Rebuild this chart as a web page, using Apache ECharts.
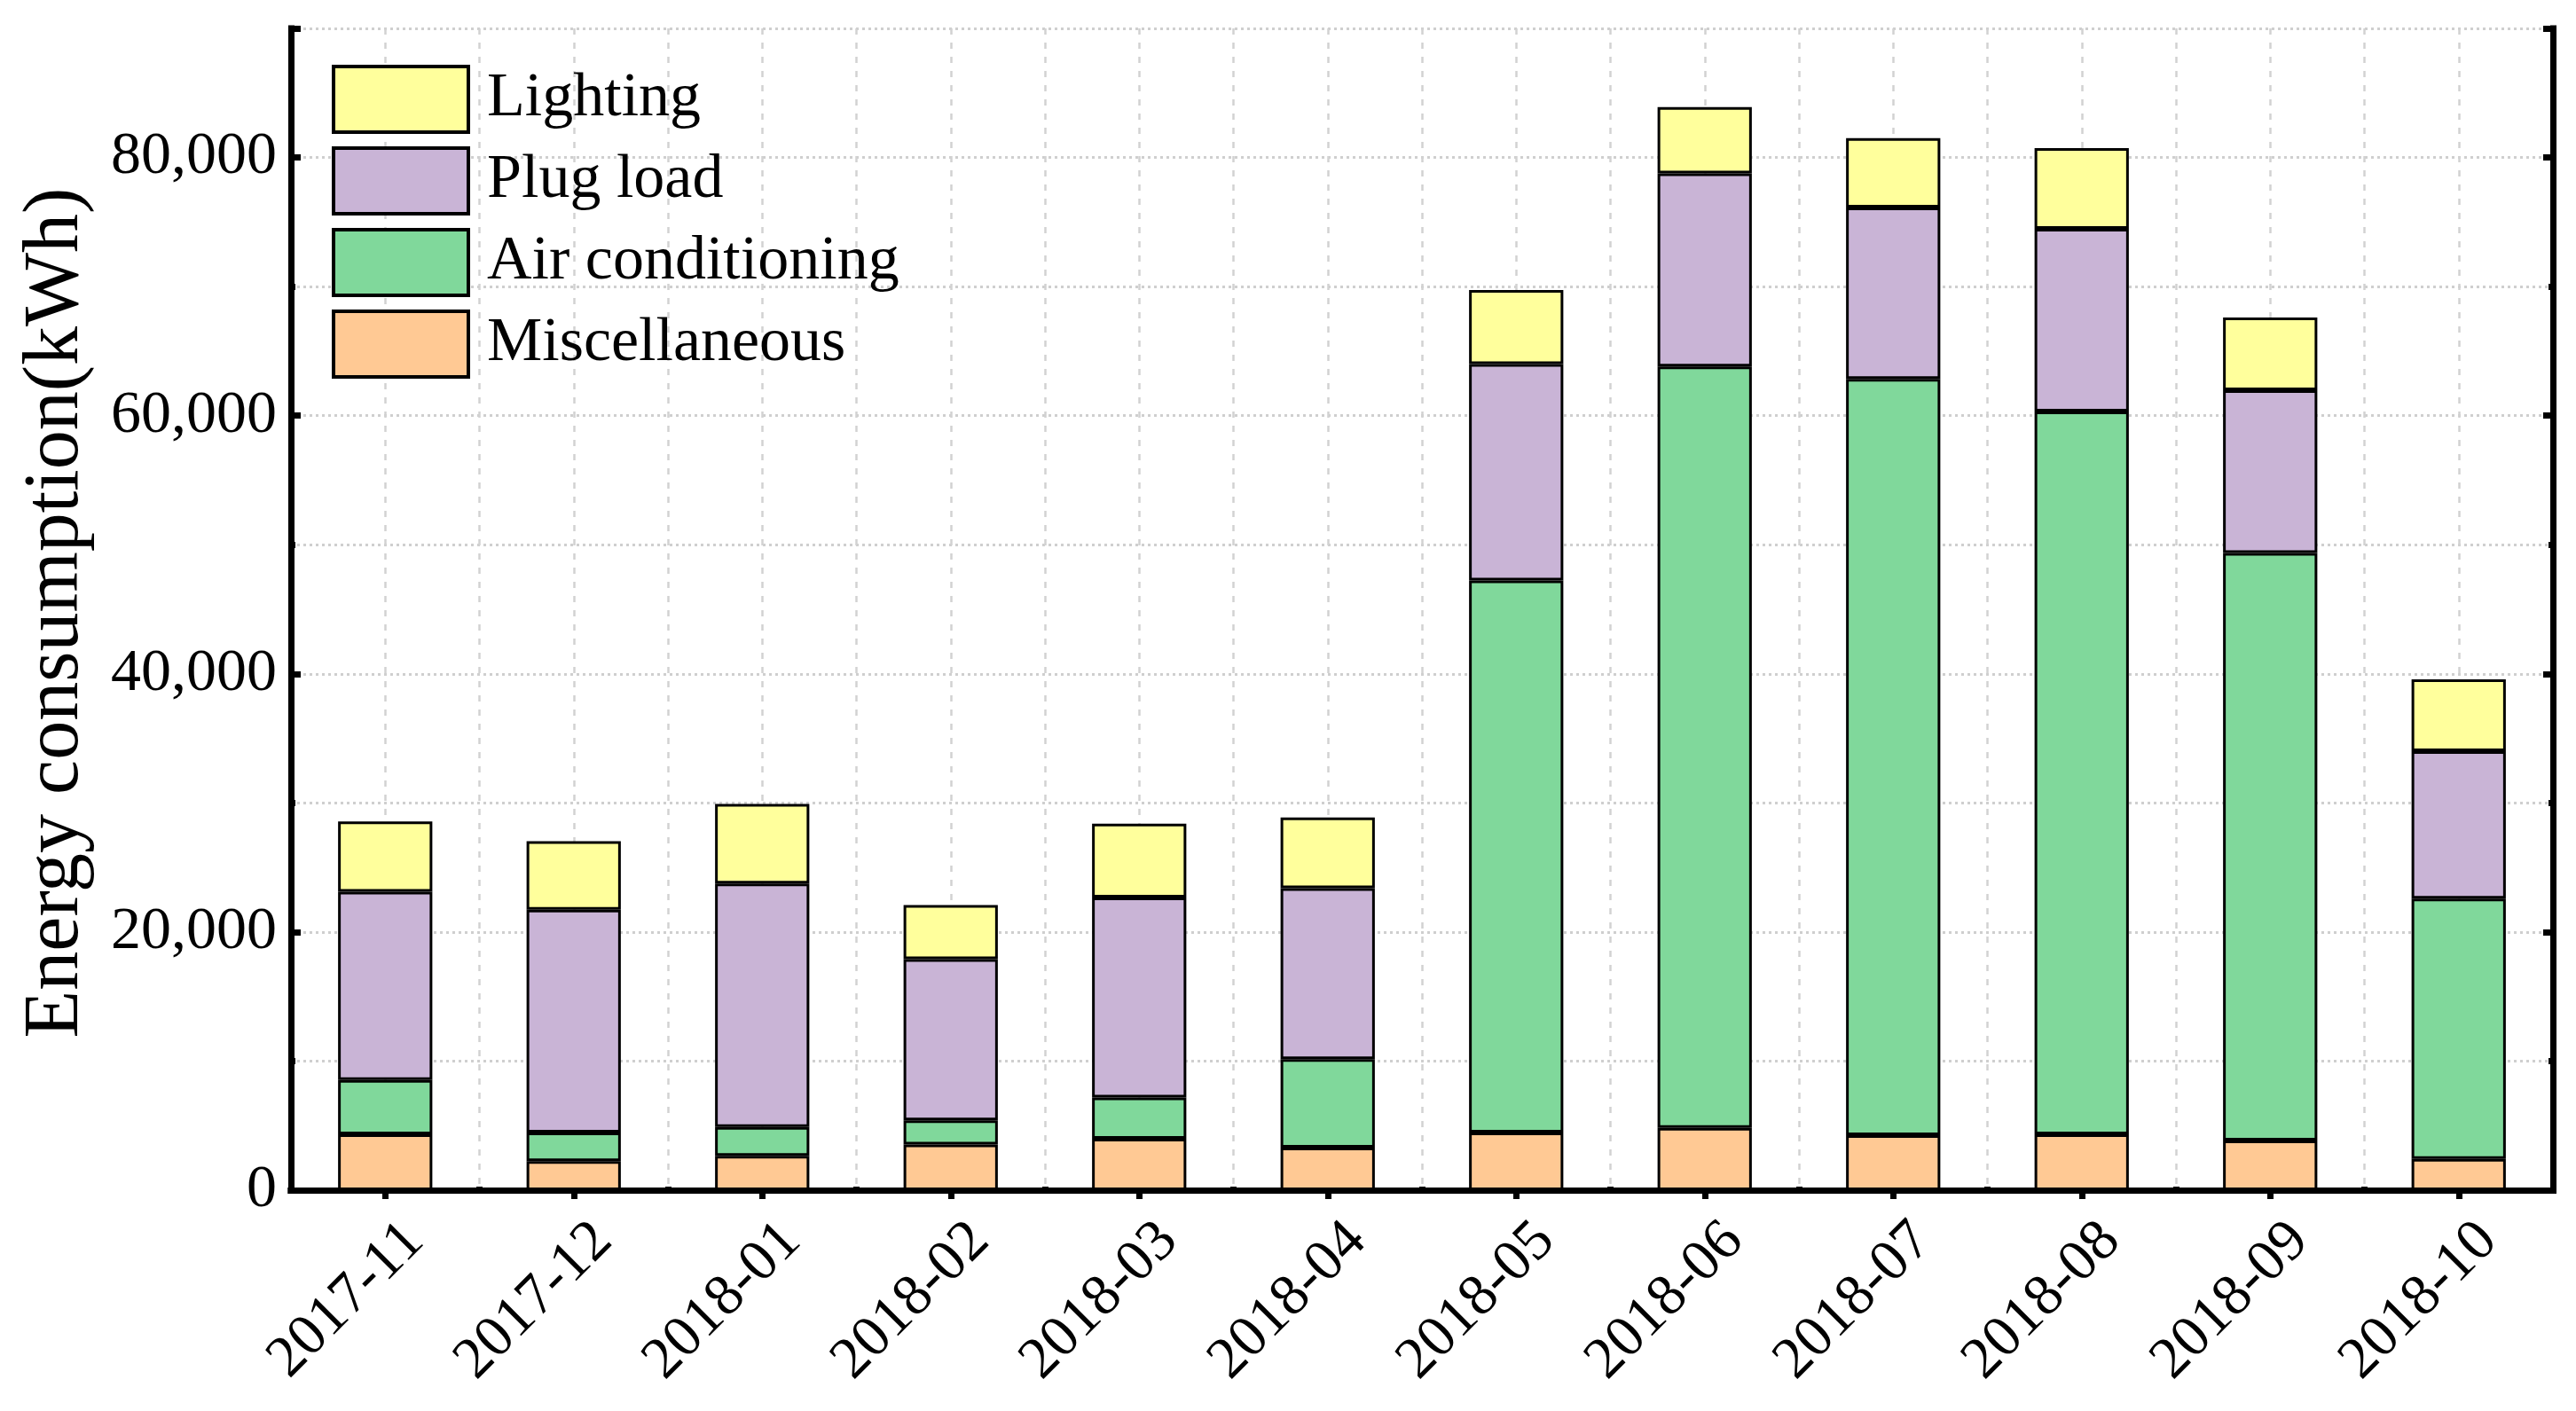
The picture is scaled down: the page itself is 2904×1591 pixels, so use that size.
<!DOCTYPE html>
<html>
<head>
<meta charset="utf-8">
<script src="https://cdn.jsdelivr.net/npm/echarts@6/dist/echarts.min.js"></script>
<style>
html,body{margin:0;padding:0;background:#fff;}
#c{width:2904px;height:1591px;}
</style>
</head>
<body>
<div id="c"></div>
<script>
const categories = ['2017-11','2017-12','2018-01','2018-02','2018-03','2018-04','2018-05','2018-06','2018-07','2018-08','2018-09','2018-10'];
const miscellaneous = [4330, 2250, 2670, 3540, 3990, 3290, 4470, 4820, 4260, 4330, 3850, 2430];
const airConditioning = [4200, 2220, 2220, 1870, 3190, 6860, 42760, 58980, 58590, 55990, 45510, 20160];
const plugLoad = [14590, 17260, 18860, 12480, 15490, 13240, 16770, 14960, 13270, 14160, 12610, 11410];
const lighting = [5440, 5300, 6170, 4190, 5720, 5480, 5740, 5140, 5380, 6250, 5630, 5570];
const yTicks = [0, 20000, 40000, 60000, 80000];

const FONT = 'Liberation Serif';
const chart = echarts.init(document.getElementById('c'));
const axisLineStyle = {color:'#000', width:7, cap:'square'};
const fmt = v => yTicks.indexOf(v) >= 0 ? String(v).replace(/\B(?=(\d{3})+(?!\d))/g, ',') : '';
const vGrid = {color:'#d2d2d2', width:2.5, type:[7,9]};
const hGrid = {color:'#cfcfcf', width:3, type:[3,4]};

function bar(name, data, color){
  return {
    name, type:'bar', stack:'total', data, barWidth:'50%',
    xAxisIndex:0, yAxisIndex:0,
    itemStyle:{color, borderColor:'#000', borderWidth:3},
    emphasis:{disabled:true}
  };
}

chart.setOption({
  animation:false,
  backgroundColor:'#fff',
  grid:{left:328, right:2904-2878, top:32, bottom:1591-1342, containLabel:false},
  legend:{
    orient:'vertical', left:374, top:73, padding:0, icon:'rect',
    data:['Lighting','Plug load','Air conditioning','Miscellaneous'],
    itemWidth:152, itemHeight:74, itemGap:14,
    textStyle:{fontFamily:FONT, fontSize:70, lineHeight:74, color:'#000', padding:[0,0,0,16]},
    itemStyle:{borderColor:'#000', borderWidth:4},
    selectedMode:false
  },
  xAxis:[
    {type:'category', data:categories, position:'bottom',
     axisLine:{show:true, lineStyle:axisLineStyle},
     axisTick:{show:true, inside:true, alignWithLabel:true, length:11, lineStyle:{color:'#000', width:7}},
     axisLabel:{fontFamily:FONT, fontSize:66, color:'#000', rotate:45, margin:14, verticalAlign:'top', padding:[14,0,0,0]},
     splitLine:{show:false}},
    {type:'category', data:categories, position:'top',
     axisLine:{show:true, lineStyle:axisLineStyle},
     axisTick:{show:true, inside:true, alignWithLabel:true, length:10, lineStyle:{color:'#000', width:7}},
     axisLabel:{show:false}, splitLine:{show:false}},
    {type:'value', min:0, max:12, interval:1, position:'bottom',
     axisLine:{show:false}, axisLabel:{show:false},
     axisTick:{show:true, inside:true, length:4, lineStyle:{color:'#000', width:7}},
     splitLine:{show:true, lineStyle:vGrid},
     minorTick:{show:false, splitNumber:2},
     minorSplitLine:{show:true, lineStyle:vGrid}},
    {type:'value', min:0, max:12, interval:1, position:'top',
     axisLine:{show:false}, axisLabel:{show:false},
     axisTick:{show:true, inside:true, length:4, lineStyle:{color:'#000', width:7}},
     splitLine:{show:false}}
  ],
  yAxis:[
    {type:'value', min:0, max:90000, interval:20000, position:'left',
     name:'Energy consumption(kWh)', nameLocation:'middle', nameGap:220, nameRotate:90,
     nameTextStyle:{fontFamily:FONT, fontSize:88, color:'#000', padding:[0,8,0,0]},
     axisLine:{show:true, lineStyle:axisLineStyle},
     axisTick:{show:true, inside:true, length:11, lineStyle:{color:'#000', width:7}},
     axisLabel:{fontFamily:FONT, fontSize:68, color:'#000', margin:16, formatter:fmt},
     splitLine:{show:false}},
    {type:'value', min:0, max:90000, interval:10000, position:'left',
     axisLine:{show:false}, axisLabel:{show:false},
     axisTick:{show:true, inside:true, length:5, lineStyle:{color:'#000', width:7}},
     splitLine:{show:true, lineStyle:hGrid}},
    {type:'value', min:0, max:90000, interval:20000, position:'right',
     axisLine:{show:true, lineStyle:axisLineStyle},
     axisTick:{show:true, inside:true, length:11, lineStyle:{color:'#000', width:7}},
     axisLabel:{show:false}, splitLine:{show:false}},
    {type:'value', min:0, max:90000, interval:10000, position:'right',
     axisLine:{show:false}, axisLabel:{show:false},
     axisTick:{show:true, inside:true, length:5, lineStyle:{color:'#000', width:7}},
     splitLine:{show:false}}
  ],
  series:[
    bar('Miscellaneous', miscellaneous, '#FFC994'),
    bar('Air conditioning', airConditioning, '#80D89B'),
    bar('Plug load', plugLoad, '#C9B4D6'),
    bar('Lighting', lighting, '#FFFF9C')
  ]
});
</script>
</body>
</html>
